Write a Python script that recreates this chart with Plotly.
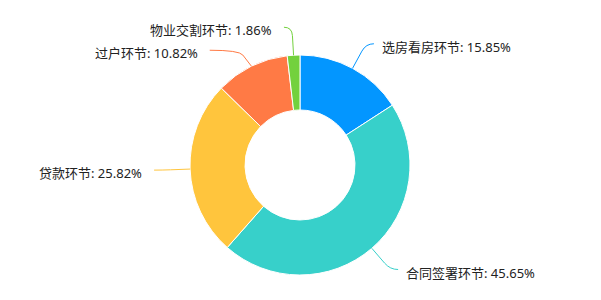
import math
import plotly.graph_objects as go

labels = ["选房看房环节", "合同签署环节", "贷款环节", "过户环节", "物业交割环节"]
values = [15.85, 45.65, 25.82, 10.82, 1.86]
colors = ["#0396ff", "#37d0ca", "#ffc53d", "#ff7a45", "#73d13d"]

W, H = 601, 300
CX, CY, R = 300, 165, 110
L1, L2, MINSEP = 28, 8, 23
GAP = {1: 7, -1: 11}
FONT = dict(family="Noto Sans, Noto Sans CJK SC, sans-serif", size=13, color="#222222")

fig = go.Figure(go.Pie(
    labels=labels, values=values, sort=False, direction="clockwise", rotation=0,
    hole=0.5, marker=dict(colors=colors, line=dict(color="#ffffff", width=1)),
    textinfo="none", hoverinfo="none", showlegend=False,
    domain=dict(x=[(CX - R) / W, (CX + R) / W], y=[1 - (CY + R) / H, 1 - (CY - R) / H]),
))

def px(x, y):
    return x / W, 1 - y / H

total = sum(values)
items = []
cum = 0
for lab, v, c in zip(labels, values, colors):
    mid = (cum + v / 2) / total * 2 * math.pi
    cum += v
    s, co = math.sin(mid), math.cos(mid)
    p0 = (CX + R * s, CY - R * co)
    bend = [CX + (R + L1) * s, CY - (R + L1) * co]
    side = 1 if s >= 0 else -1
    items.append(dict(lab=lab, v=v, c=c, p0=p0, bend=bend, side=side, shifted=False))

# simple overlap avoidance per side (push downward)
for side in (1, -1):
    grp = sorted([it for it in items if it["side"] == side], key=lambda it: it["bend"][1])
    for a, b in zip(grp, grp[1:]):
        if b["bend"][1] - a["bend"][1] < MINSEP:
            b["bend"][1] = a["bend"][1] + MINSEP
            b["shifted"] = True

shapes, annos = [], []
for it in items:
    p0, bend, side = it["p0"], it["bend"], it["side"]
    if it["shifted"]:
        dy = CY - bend[1]
        ex = CX + side * math.sqrt(max((R + L1 + L2) ** 2 - dy ** 2, 0))
    else:
        ex = bend[0] + side * L2
    end = (ex, bend[1])
    a = (p0[0] + 0.7 * (bend[0] - p0[0]), p0[1] + 0.7 * (bend[1] - p0[1]))
    pts = [px(*p0), px(*a), px(*bend), px(*end)]
    path = "M {:.5f},{:.5f} L {:.5f},{:.5f} Q {:.5f},{:.5f} {:.5f},{:.5f}".format(
        *pts[0], *pts[1], *pts[2], *pts[3])
    shapes.append(dict(type="path", xref="paper", yref="paper", path=path,
                       line=dict(color=it["c"], width=1)))
    tx, ty = px(end[0] + side * GAP[side], end[1] + 3)
    annos.append(dict(x=tx, y=ty, xref="paper", yref="paper", showarrow=False,
                      text=f"{it['lab']}: {it['v']:.2f}%",
                      xanchor="left" if side > 0 else "right", yanchor="middle",
                      font=FONT, borderpad=0))

fig.update_layout(width=W, height=H, margin=dict(l=0, r=0, t=0, b=0),
                  paper_bgcolor="white", plot_bgcolor="white",
                  shapes=shapes, annotations=annos)
fig.write_html("out.html")
